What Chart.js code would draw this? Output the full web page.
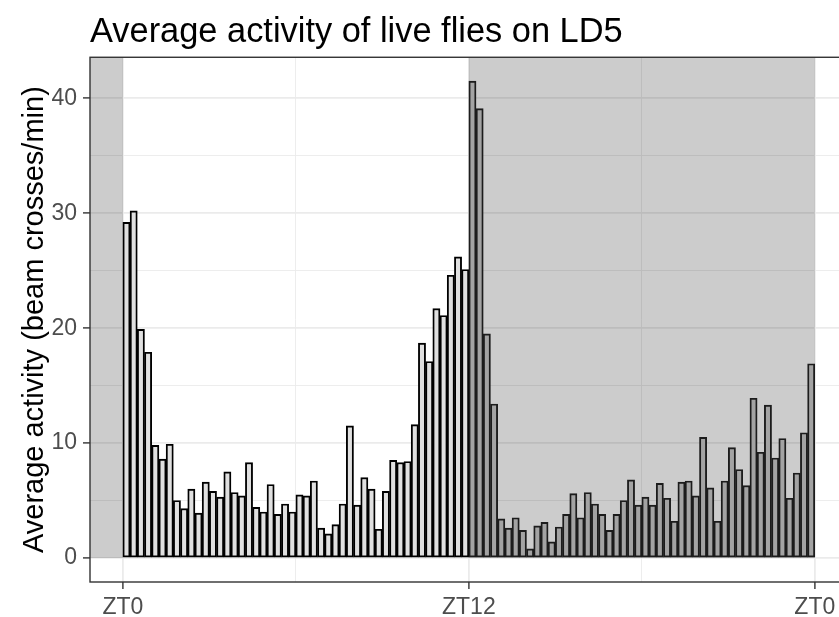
<!DOCTYPE html>
<html>
<head>
<meta charset="utf-8">
<title>Average activity of live flies on LD5</title>
<script src="https://cdn.jsdelivr.net/npm/chart.js@4.4.1/dist/chart.umd.min.js"></script>
<style>
  html, body { margin: 0; padding: 0; background: #ffffff; }
  #wrap { width: 839px; height: 617px; overflow: hidden; }
</style>
</head>
<body>
<div id="wrap"><canvas id="activityChart" width="858" height="617"></canvas></div>
<script>
// Mean beam crosses per minute, 15-minute bins from ZT0 to ZT24
const binHours = 0.25;
const activity = [
  29.2, 30.2, 19.9, 17.9, 9.8, 8.6, 9.9, 5.0, 4.3, 6.0, 3.9, 6.6,
  5.8, 5.3, 7.5, 5.7, 5.4, 8.3, 4.4, 4.0, 6.4, 3.8, 4.7, 4.0,
  5.5, 5.4, 6.7, 2.6, 2.1, 2.9, 4.7, 11.5, 4.6, 7.0, 6.0, 2.5,
  5.8, 8.5, 8.3, 8.4, 11.6, 18.7, 17.1, 21.7, 21.1, 24.6, 26.2, 25.1,
  41.5, 39.1, 19.5, 13.4, 3.4, 2.6, 3.5, 2.4, 0.8, 2.8, 3.1, 1.4,
  2.7, 3.8, 5.6, 3.5, 5.7, 4.7, 3.8, 2.4, 3.8, 5.0, 6.8, 4.6,
  5.3, 4.6, 6.5, 5.2, 3.2, 6.6, 6.7, 5.4, 10.5, 6.1, 3.2, 6.7,
  9.6, 7.7, 6.3, 13.9, 9.2, 13.3, 8.7, 10.4, 5.2, 7.4, 10.9, 16.9
];
const lightsOff = 12;
const darkPhases = [[-Infinity, 0], [12, 24]];
const xTicks = [0, 6, 12, 18, 24];
const xTickLabels = ['ZT0', '', 'ZT12', '', 'ZT0'];
const yTicks = [0, 5, 10, 15, 20, 25, 30, 35, 40];

const points = activity.map((v, i) => ({ x: i * binHours + binHours / 2, y: v }));

const FONT = '"Liberation Sans", Arial, Helvetica, sans-serif';
const isMajorX = c => !!c.tick && c.tick.value % 12 === 0;
const isMajorY = c => !!c.tick && c.tick.value % 10 === 0;

// grey night blocks, sitting over the grid but under the bars
const nightShade = {
  id: 'nightShade',
  beforeDatasetsDraw(chart) {
    const { ctx, chartArea: a, scales: { x, y } } = chart;
    const y0 = y.getPixelForValue(0);
    ctx.save();
    ctx.fillStyle = 'rgba(0, 0, 0, 0.2)';
    darkPhases.forEach(([from, to]) => {
      const x0 = Math.max(a.left, isFinite(from) ? x.getPixelForValue(from) : a.left);
      const x1 = Math.min(a.right, isFinite(to) ? x.getPixelForValue(to) : a.right);
      ctx.fillRect(x0, a.top, x1 - x0, y0 - a.top);
    });
    ctx.restore();
  }
};

// panel outline on top of everything
const panelBorder = {
  id: 'panelBorder',
  afterDatasetsDraw(chart) {
    const { ctx, chartArea: a } = chart;
    ctx.save();
    ctx.strokeStyle = '#333333';
    ctx.lineWidth = 1.4;
    ctx.strokeRect(a.left, a.top, a.right - a.left, a.bottom - a.top);
    ctx.restore();
  }
};

const ctx = document.getElementById('activityChart').getContext('2d');
new Chart(ctx, {
  type: 'bar',
  data: {
    datasets: [{
      data: points,
      backgroundColor: c => (c.raw && c.raw.x < lightsOff ? '#e0e0e0' : '#a3a3a3'),
      borderColor: c => (c.raw && c.raw.x < lightsOff ? '#000000' : '#1c1c1c'),
      borderWidth: 1.9,
      borderSkipped: false,
      barPercentage: 1,
      categoryPercentage: 1
    }]
  },
  options: {
    responsive: false,
    animation: false,
    layout: { padding: { left: 0, right: 8.6, top: 0, bottom: 0 } },
    scales: {
      x: {
        type: 'linear',
        offset: false,
        min: -1.14,
        max: 25.2,
        afterBuildTicks: s => { s.ticks = xTicks.map(v => ({ value: v })); },
        afterFit: s => { s.height = 35; },
        border: { display: false },
        grid: {
          offset: false,
          color: '#ebebeb',
          lineWidth: c => (isMajorX(c) ? 1.8 : 0.9),
          tickColor: c => (isMajorX(c) ? '#333333' : 'rgba(0,0,0,0)'),
          tickWidth: 1.4,
          tickLength: 7
        },
        ticks: {
          autoSkip: false,
          maxRotation: 0,
          padding: 5,
          color: '#4d4d4d',
          font: { family: FONT, size: 23 },
          callback: v => xTickLabels[xTicks.indexOf(v)]
        }
      },
      y: {
        min: -2.087,
        max: 43.57,
        afterBuildTicks: s => { s.ticks = yTicks.map(v => ({ value: v })); },
        afterFit: s => { s.width = 90; },
        border: { display: false },
        grid: {
          color: '#ebebeb',
          lineWidth: c => (isMajorY(c) ? 1.8 : 0.9),
          tickColor: c => (isMajorY(c) ? '#333333' : 'rgba(0,0,0,0)'),
          tickWidth: 1.4,
          tickLength: 7
        },
        ticks: {
          padding: 6,
          color: '#4d4d4d',
          font: { family: FONT, size: 23 },
          callback: v => (v % 10 === 0 ? String(v) : '')
        },
        title: {
          display: true,
          text: 'Average activity (beam crosses/min)',
          color: '#000000',
          font: { family: FONT, size: 29 },
          padding: { top: 18, bottom: 0 }
        }
      }
    },
    plugins: {
      legend: { display: false },
      tooltip: { enabled: false },
      title: {
        display: true,
        text: 'Average activity of live flies on LD5',
        align: 'start',
        fullSize: false,
        color: '#000000',
        font: { family: FONT, size: 34.4, weight: 'normal' },
        padding: { top: 12, bottom: 4 }
      }
    }
  },
  plugins: [nightShade, panelBorder]
});
</script>
</body>
</html>
